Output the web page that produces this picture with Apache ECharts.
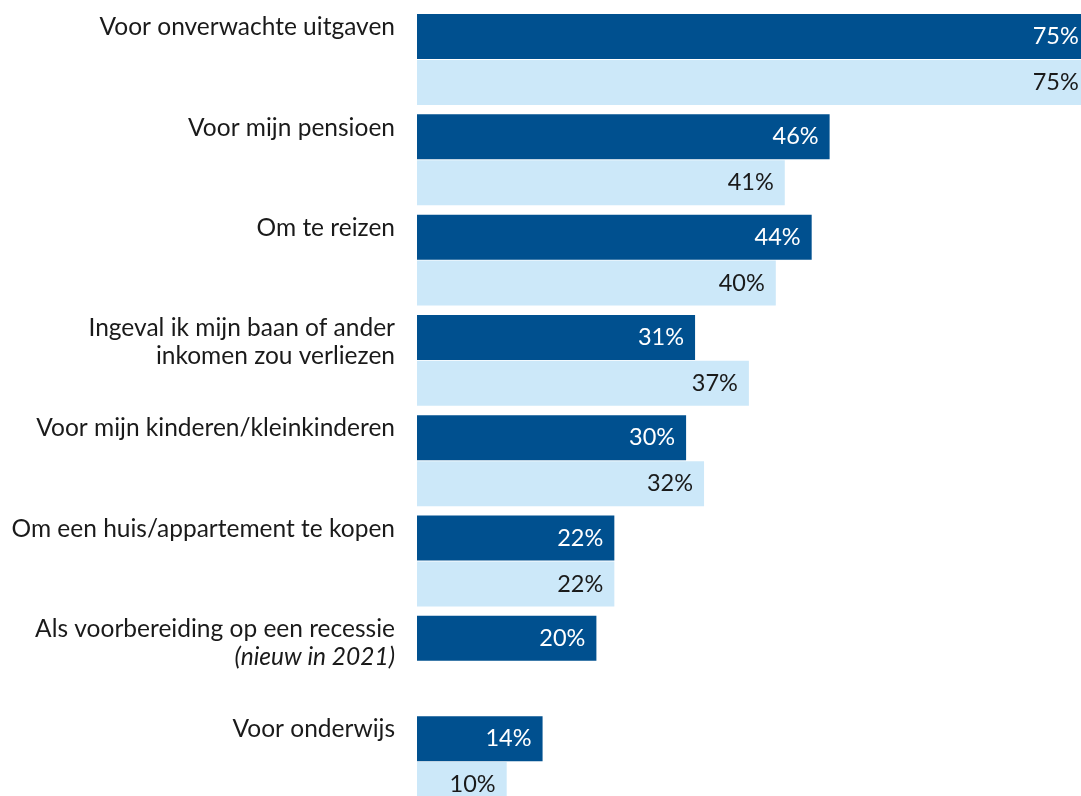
<!DOCTYPE html>
<html>
<head>
<meta charset="utf-8">
<script src="https://cdn.jsdelivr.net/npm/echarts@6/dist/echarts.min.js"></script>
<style>
  html, body { margin: 0; padding: 0; background: #ffffff; }
  #chart { width: 1081px; height: 796px; }
</style>
</head>
<body>
<div id="chart"></div>
<script>
// Reasons for saving, share of respondents (%)
const categories = [
  'Voor onverwachte uitgaven',
  'Voor mijn pensioen',
  'Om te reizen',
  'Ingeval ik mijn baan of ander\ninkomen zou verliezen',
  'Voor mijn kinderen/kleinkinderen',
  'Om een huis/appartement te kopen',
  'Als voorbereiding op een recessie',
  'Voor onderwijs'
];
// Extra italic line under a category name
const categoryNotes = ['', '', '', '', '', '', '(nieuw in 2021)', ''];

const values2021 = [75, 46, 44, 31, 30, 22, 20, 14];
const values2020 = [75, 41, 40, 37, 32, 22, null, 10];

const FONT = 'Lato';
const TEXT = '#1a1a1a';

const chart = echarts.init(document.getElementById('chart'), null, { renderer: 'canvas' });

const valueLabel = (color) => ({
  show: true,
  position: 'insideRight',
  distance: 11,
  color: color,
  fontFamily: FONT,
  fontSize: 23.5,
  formatter: (p) => p.value + '%'
});

chart.setOption({
  animation: false,
  grid: {
    left: 417, top: 9.35, width: 897, height: 802.4,
    containLabel: false, outerBoundsMode: 'none'
  },
  xAxis: {
    type: 'value', min: 0, max: 100,
    show: false
  },
  yAxis: [
    {
      type: 'category', inverse: true, data: categories,
      axisLine: { show: false }, axisTick: { show: false }, axisLabel: { show: false }
    },
    {
      // category names, anchored at the top of each band
      type: 'category', inverse: true, boundaryGap: false, position: 'left',
      data: categories.concat(['']),
      axisLine: { show: false }, axisTick: { show: false },
      axisLabel: {
        interval: 0, margin: 22, align: 'right', verticalAlign: 'top',
        padding: [4, 0, 0, 0],
        fontFamily: FONT, fontSize: 24.5, lineHeight: 28, color: TEXT,
        formatter: (v, i) => categoryNotes[i] ? v + '\n{i|' + categoryNotes[i] + '}' : v,
        rich: { i: { fontStyle: 'italic', fontFamily: FONT, fontSize: 24.5, lineHeight: 28, color: TEXT } }
      }
    }
  ],
  series: [
    {
      name: '2021', type: 'bar', yAxisIndex: 0, data: values2021,
      barWidth: 45, barGap: '2%',
      itemStyle: { color: '#00508f' },
      label: valueLabel('#ffffff')
    },
    {
      name: '2020', type: 'bar', yAxisIndex: 0, data: values2020,
      barWidth: 45,
      itemStyle: { color: '#cce8f9' },
      label: valueLabel(TEXT)
    }
  ]
});
</script>
</body>
</html>
